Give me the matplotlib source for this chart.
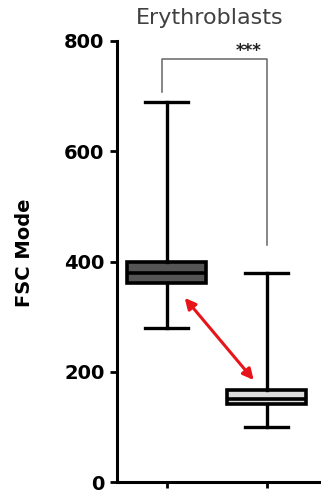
import matplotlib
matplotlib.use("Agg")
import matplotlib.pyplot as plt

# Box statistics for FSC mode (whisker low, Q1, median, Q3, whisker high)
groups = ["Group 1", "Group 2"]
whislo = [279, 99]
q1 = [361, 141]
med = [379, 150]
q3 = [400, 167]
whishi = [690, 379]
box_faces = ["#555555", "#dcdcdc"]

yticks = [0, 200, 400, 600, 800]
title = "Erythroblasts"
ylabel = "FSC Mode"
sig_label = "***"

# Significance bracket: left leg bottom, bracket top, right leg bottom (data units)
bracket_x = [0.95, 2.0]
bracket_y = [708, 767, 430]

# Double-headed arrow endpoints (x position, value)
arrow_start = (1.18, 334)
arrow_end = (1.87, 185)

fig = plt.figure(figsize=(3.21, 4.96), dpi=100)
ax = fig.add_axes([117 / 321, 14 / 496, 1 - 117 / 321, (482 - 41) / 496])

stats = []
for i, g in enumerate(groups):
    stats.append(dict(label=g, whislo=whislo[i], q1=q1[i], med=med[i],
                      q3=q3[i], whishi=whishi[i], fliers=[]))

bp = ax.bxp(stats, positions=[1, 2], widths=0.79, patch_artist=True,
            showfliers=False,
            boxprops=dict(linewidth=2.6, edgecolor="black"),
            medianprops=dict(linewidth=2.6, color="black"),
            whiskerprops=dict(linewidth=2.4, color="black"),
            capprops=dict(linewidth=2.4, color="black"),
            capwidths=0.43)
for patch, fc in zip(bp["boxes"], box_faces):
    patch.set_facecolor(fc)

ax.set_xlim(0.503, 2.543)
ax.set_ylim(0, 800)
ax.set_yticks(yticks)
ax.set_xticks([1, 2])
ax.set_xticklabels([])

for side in ("top", "right"):
    ax.spines[side].set_visible(False)
for side in ("left", "bottom"):
    ax.spines[side].set_linewidth(2.2)
ax.spines["left"].set_bounds(0, 800)

ax.tick_params(axis="y", length=5, width=2, pad=4)
ax.tick_params(axis="x", length=4, width=2)
for lab in ax.get_yticklabels():
    lab.set_fontfamily("DejaVu Sans")
    lab.set_fontweight("bold")
    lab.set_fontsize(14)

ax.set_ylabel(ylabel, fontsize=14, fontweight="bold",
              family="DejaVu Sans")
ax.yaxis.set_label_coords(-0.405, 0.52)

fig.text(210 / 321, 1 - 18 / 496, title, ha="center", va="center",
         fontsize=16, color="#404040", family="DejaVu Sans")

# Significance bracket
ax.plot([bracket_x[0], bracket_x[0], bracket_x[1], bracket_x[1]],
        [bracket_y[0], bracket_y[1], bracket_y[1], bracket_y[2]],
        color="#666666", lw=1.1, clip_on=False)
ax.text(1.815, 782, sig_label, ha="center", va="center", fontsize=12,
        fontweight="bold", color="#222222")

# Red double-headed arrow between the two boxes
ax.annotate("", xy=arrow_end, xytext=arrow_start,
            arrowprops=dict(arrowstyle="<|-|>", color="#e8141b", lw=2.2,
                            mutation_scale=16, shrinkA=0, shrinkB=0))

fig.savefig("out.png", dpi=100)
